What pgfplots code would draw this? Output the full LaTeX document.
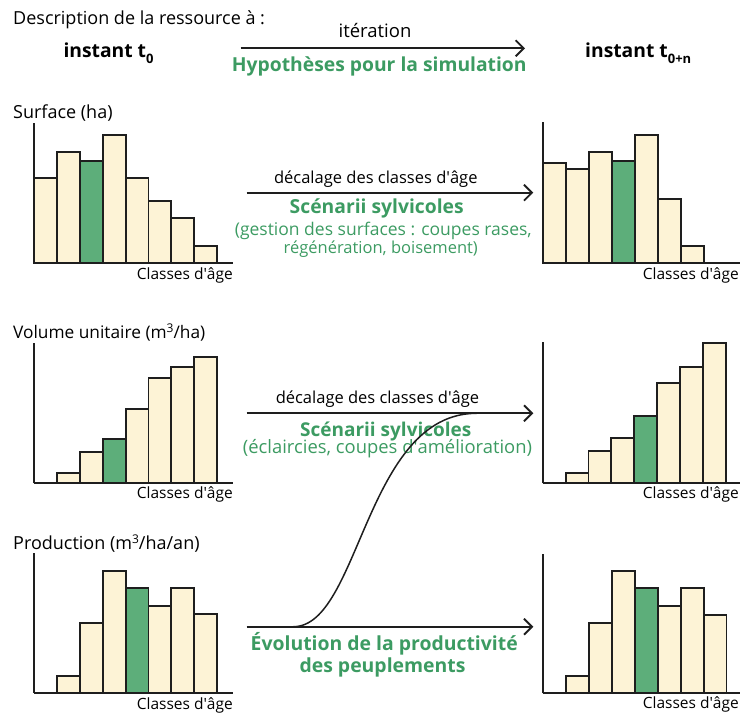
\documentclass[border=0pt]{standalone}
\usepackage{fontspec}
\setmainfont{Open Sans}
\usepackage{pgfplots}
\pgfplotsset{compat=1.18}
\usetikzlibrary{arrows.meta}
\definecolor{cream}{HTML}{FDF3D6}
\definecolor{greenf}{HTML}{5DAE7A}
\definecolor{greent}{HTML}{3C9B62}
\definecolor{linec}{HTML}{1E1E1E}
\newcommand{\fs}[1]{\fontsize{#1}{#1}\selectfont}
\newcommand{\sml}{\fontsize{15.5}{18}\selectfont}
\newcommand{\bld}[1][19.3]{\fontsize{#1}{20}\selectfont\bfseries}
\newcommand{\ap}{\textquotesingle}
\newcommand{\subs}[1]{\raisebox{-6pt}{\fontsize{13}{13}\selectfont #1}}
\newcommand{\sups}[1]{\raisebox{6pt}{\fontsize{12}{13}\selectfont #1}}
\pgfplotsset{
  mini/.style={
    x=22.9pt, y=1pt, xmin=0, ymin=0, enlargelimits=false,
    axis lines=left, axis line style={-, line width=1.9pt, draw=linec},
    xtick=\empty, ytick=\empty, ybar, bar width=1, clip=false,
    anchor=south west,
  },
  cb/.style={fill=cream, draw=linec, line width=1.9pt, bar shift=0pt},
  gb/.style={fill=greenf, draw=linec, line width=1.9pt, bar shift=0pt},
}
\begin{document}
\begin{tikzpicture}[x=1pt,y=1pt]
\useasboundingbox (0,0) rectangle (740,713);
% ---------- header ----------
\node[anchor=base west, inner sep=0] at (13,688) {\fs{18}Description de la ressource à :};
\node[anchor=base west, inner sep=0] at (63.3,655.7) {\bld instant t\subs{0}};
\node[anchor=base west, inner sep=0] at (585,655.7) {\bld instant t\subs{0+n}};
\node[anchor=base, inner sep=0] at (375,675.7) {\fs{18.5}itération};
\draw[line width=1.9pt, linec, -{Straight Barb[length=8pt,width=16pt,line width=1.9pt]}] (240.7,664.7) -- (525,664.7);
\node[anchor=base, inner sep=0, text=greent] at (379.3,641.3) {\bld Hypothèses pour la simulation};
% ---------- row 1 ----------
\node[anchor=base west, inner sep=0] at (13,594.7) {\fs{18}Surface (ha)};
\begin{axis}[mini, at={(34pt,449.7pt)}, xmax=8.69, ymax=140.3]
\addplot[cb] coordinates {(0.5,85.6) (1.5,111.6) (3.5,128.3) (4.5,85.6) (5.5,62.3) (6.5,45) (7.5,17.3)};
\addplot[gb] coordinates {(2.5,102.6)};
\end{axis}
\node[anchor=base east, inner sep=0] at (233,433) {\sml Classes d\ap âge};
\begin{axis}[mini, at={(543.3pt,449.7pt)}, xmax=8.59, ymax=141.3]
\addplot[cb] coordinates {(0.5,100) (1.5,94.6) (2.5,111.6) (4.5,128.3) (5.5,64.3) (6.5,17.3)};
\addplot[gb] coordinates {(3.5,102.6)};
\end{axis}
\node[anchor=base east, inner sep=0] at (739,433) {\sml Classes d\ap âge};
\node[anchor=base, inner sep=0] at (375.8,529.7) {\fs{16.5}décalage des classes d\ap âge};
\draw[line width=1.9pt, linec, -{Straight Barb[length=8pt,width=16pt,line width=1.9pt]}] (246.7,520.3) -- (533.3,520.3);
\node[anchor=base, inner sep=0, text=greent] at (376.7,499.7) {\bld Scénarii sylvicoles};
\node[anchor=base, inner sep=0, text=greent] at (383.3,477) {\fs{17.5}(gestion des surfaces : coupes rases,};
\node[anchor=base, inner sep=0, text=greent] at (380.8,459.7) {\fs{16.5}régénération, boisement)};
% ---------- row 2 ----------
\node[anchor=base west, inner sep=0] at (13,374.7) {\fs{17.3}Volume unitaire (m\sups{3}/ha)};
\begin{axis}[mini, at={(34pt,229.7pt)}, xmax=8.68, ymax=140.6]
\addplot[cb] coordinates {(1.5,10) (2.5,31.6) (4.5,74.3) (5.5,105.6) (6.5,116) (7.5,126.3)};
\addplot[gb] coordinates {(3.5,44.3)};
\end{axis}
\node[anchor=base east, inner sep=0] at (233,214) {\sml Classes d\ap âge};
\begin{axis}[mini, at={(542.7pt,229.7pt)}, xmax=8.6, ymax=141.6]
\addplot[cb] coordinates {(1.5,10.6) (2.5,32.3) (3.5,45) (5.5,100) (6.5,116.6) (7.5,140)};
\addplot[gb] coordinates {(4.5,67.3)};
\end{axis}
\node[anchor=base east, inner sep=0] at (739,214) {\sml Classes d\ap âge};
\node[anchor=base, inner sep=0] at (377.5,309.7) {\fs{16.5}décalage des classes d\ap âge};
\draw[line width=1.9pt, linec, -{Straight Barb[length=8pt,width=16pt,line width=1.9pt]}] (246.7,299.7) -- (533.3,299.7);
\node[anchor=base, inner sep=0, text=greent] at (383.3,276.3) {\bld[19] Scénarii sylvicoles};
\node[anchor=base, inner sep=0, text=greent] at (387.5,259) {\fs{18.4}(éclaircies, coupes d\ap amélioration)};
% ---------- row 3 ----------
\node[anchor=base west, inner sep=0] at (13,163.7) {\fs{18}Production (m\sups{3}/ha/an)};
\begin{axis}[mini, at={(34pt,20.3pt)}, xmax=8.68, ymax=140]
\addplot[cb] coordinates {(1.5,17) (2.5,70) (3.5,122) (5.5,87) (6.5,104.4) (7.5,78.7)};
\addplot[gb] coordinates {(4.5,104.4)};
\end{axis}
\node[anchor=base east, inner sep=0] at (233,3) {\sml Classes d\ap âge};
\begin{axis}[mini, at={(543.3pt,19.7pt)}, xmax=8.59, ymax=139.3]
\addplot[cb] coordinates {(1.5,17) (2.5,70.6) (3.5,122.6) (5.5,87.3) (6.5,105) (7.5,78.3)};
\addplot[gb] coordinates {(4.5,105)};
\end{axis}
\node[anchor=base east, inner sep=0] at (739,4.7) {\sml Classes d\ap âge};
\draw[line width=1.9pt, linec, -{Straight Barb[length=8pt,width=16pt,line width=1.9pt]}] (246.7,86.3) -- (533.3,86.3);
\draw[line width=1.5pt, linec] (293.3,86.3) .. controls (360,86.3) and (365,299.7) .. (476.7,299.7);
\node[anchor=base, inner sep=0, text=greent] at (381.7,62) {\bld[19.4] Évolution de la productivité};
\node[anchor=base, inner sep=0, text=greent] at (380,40) {\bld[19.4] des peuplements};
\end{tikzpicture}
\end{document}
